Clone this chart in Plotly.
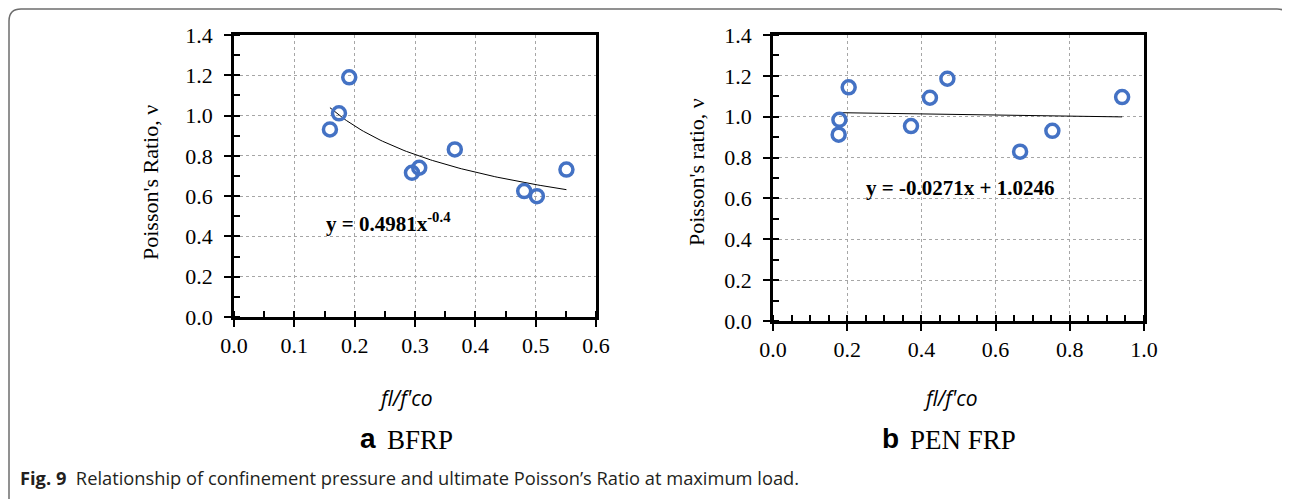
import numpy as np
import plotly.graph_objects as go

W, H = 1290, 499
OFF = 8  # the page body has an 8px margin; coordinates below are screen pixels

# ---- data ----
bfrp_x = [0.159, 0.174, 0.191, 0.295, 0.307, 0.366, 0.481, 0.502, 0.551]
bfrp_y = [0.931, 1.011, 1.190, 0.716, 0.741, 0.832, 0.625, 0.600, 0.732]
pen_x = [0.177, 0.179, 0.204, 0.372, 0.423, 0.470, 0.666, 0.753, 0.941]
pen_y = [0.912, 0.985, 1.144, 0.954, 1.093, 1.186, 0.829, 0.931, 1.096]
bfrp_fit = (0.4981, -0.4)      # y = a x^b
pen_fit = (-0.0271, 1.0246)    # y = m x + c

xtitle = "fl/f'co"
ylab_a = "Poisson's Ratio, ν"
ylab_b = "Poisson's ratio, ν"
eq_a = "y = 0.4981x<sup>-0.4</sup>"
eq_b = "y = -0.0271x + 1.0246"
panel_a = ("a", "BFRP")
panel_b = ("b", "PEN FRP")
caption_bold = "Fig. 9"
caption_text = "Relationship of confinement pressure and ultimate Poisson’s Ratio at maximum load."

BLUE = "#4472C4"
SERIF = "Liberation Serif"


def px(x):
    return (x - OFF) / W


def py(y):
    return 1 - (y - OFF) / H


fig = go.Figure()

# trend lines
fx_a = np.linspace(min(bfrp_x), max(bfrp_x), 100)
fig.add_trace(go.Scatter(x=fx_a, y=bfrp_fit[0] * fx_a ** bfrp_fit[1], mode="lines",
                         line=dict(color="black", width=1), xaxis="x", yaxis="y",
                         showlegend=False, hoverinfo="skip"))
fx_b = np.array([min(pen_x), max(pen_x)])
fig.add_trace(go.Scatter(x=fx_b, y=pen_fit[0] * fx_b + pen_fit[1], mode="lines",
                         line=dict(color="black", width=1), xaxis="x2", yaxis="y2",
                         showlegend=False, hoverinfo="skip"))

marker = dict(symbol="circle-open", size=13, color=BLUE, line=dict(width=3.5, color=BLUE))
fig.add_trace(go.Scatter(x=bfrp_x, y=bfrp_y, mode="markers", marker=marker,
                         xaxis="x", yaxis="y", showlegend=False))
fig.add_trace(go.Scatter(x=pen_x, y=pen_y, mode="markers", marker=marker,
                         xaxis="x2", yaxis="y2", showlegend=False))


def axis_style(rng, dtick, minor_dtick, domain, anchor, standoff):
    return dict(
        range=rng, dtick=dtick, tick0=0, domain=domain, anchor=anchor,
        tickformat=".1f", showline=True, mirror=True, linecolor="black", linewidth=2.5,
        ticks="outside", ticklen=7, tickwidth=1.5, tickcolor="black",
        ticklabelstandoff=standoff,
        showgrid=True, gridcolor="#a6a6a6", griddash="dot", gridwidth=1,
        zeroline=False, tickfont=dict(family=SERIF, size=22, color="black"),
        minor=dict(dtick=minor_dtick, tick0=0, ticks="inside", ticklen=6,
                   tickwidth=1.5, tickcolor="black", showgrid=False),
        fixedrange=True, automargin=False,
    )


fig.update_layout(
    width=W, height=H, margin=dict(l=0, r=0, t=0, b=0, autoexpand=False),
    paper_bgcolor="white", plot_bgcolor="white", showlegend=False,
    xaxis=axis_style([0, 0.6], 0.1, 0.05, [px(234), px(596)], "y", 0),
    yaxis=axis_style([0, 1.4], 0.2, 0.1, [py(317), py(35)], "x", 7),
    xaxis2=axis_style([0, 1.0], 0.2, 0.05, [px(773), px(1144)], "y2", 0),
    yaxis2=axis_style([0, 1.4], 0.2, 0.1, [py(321), py(35)], "x2", 7),
)


def note(x, y, text, font, xanchor="center", **kw):
    return dict(x=px(x), y=py(y), xref="paper", yref="paper", text=text,
                showarrow=False, xanchor=xanchor, yanchor="middle", font=font, **kw)


ann = []
# y titles
ann.append(note(150, 183, ylab_a, dict(family=SERIF, size=22, color="black"), textangle=-90))
ann.append(note(696, 172, ylab_b, dict(family=SERIF, size=22, color="black"), textangle=-90))
# x titles
for cx in (405, 950):
    ann.append(note(cx, 398, "<i>" + xtitle + "</i>",
                    dict(family="Open Sans", size=21, color="black")))
# panel labels: bold sans letter + serif name
for (letter, name), lx in ((panel_a, 378), (panel_b, 901)):
    ann.append(note(lx, 438, "<b>" + letter + "</b>",
                    dict(family="Liberation Sans", size=28, color="black"), xanchor="right"))
    ann.append(note(lx + 7, 440, name, dict(family=SERIF, size=27, color="black"),
                    xanchor="left"))
# equations
ann.append(note(388, 222, "<b>" + eq_a + "</b>", dict(family=SERIF, size=21, color="black")))
ann.append(note(960, 188, "<b>" + eq_b + "</b>", dict(family=SERIF, size=21, color="black")))
# caption
ann.append(note(18, 477, "<b>" + caption_bold + "</b>  " + caption_text,
                dict(family="Open Sans", size=18.3, color="#231f20"), xanchor="left"))
fig.update_layout(annotations=ann)

# rounded frame (as close to the top-left as the page margin allows)
L, T, R, B, r = 9, 9, 1289, 510, 12
path = (f"M {px(L)},{py(B)} L {px(L)},{py(T + r)} Q {px(L)},{py(T)} {px(L + r)},{py(T)} "
        f"L {px(R - r)},{py(T)} Q {px(R)},{py(T)} {px(R)},{py(T + r)} L {px(R)},{py(B)}")
fig.add_shape(type="path", path=path, xref="paper", yref="paper",
              line=dict(color="#6d6d6d", width=1.5))

fig.write_html("out.html")
